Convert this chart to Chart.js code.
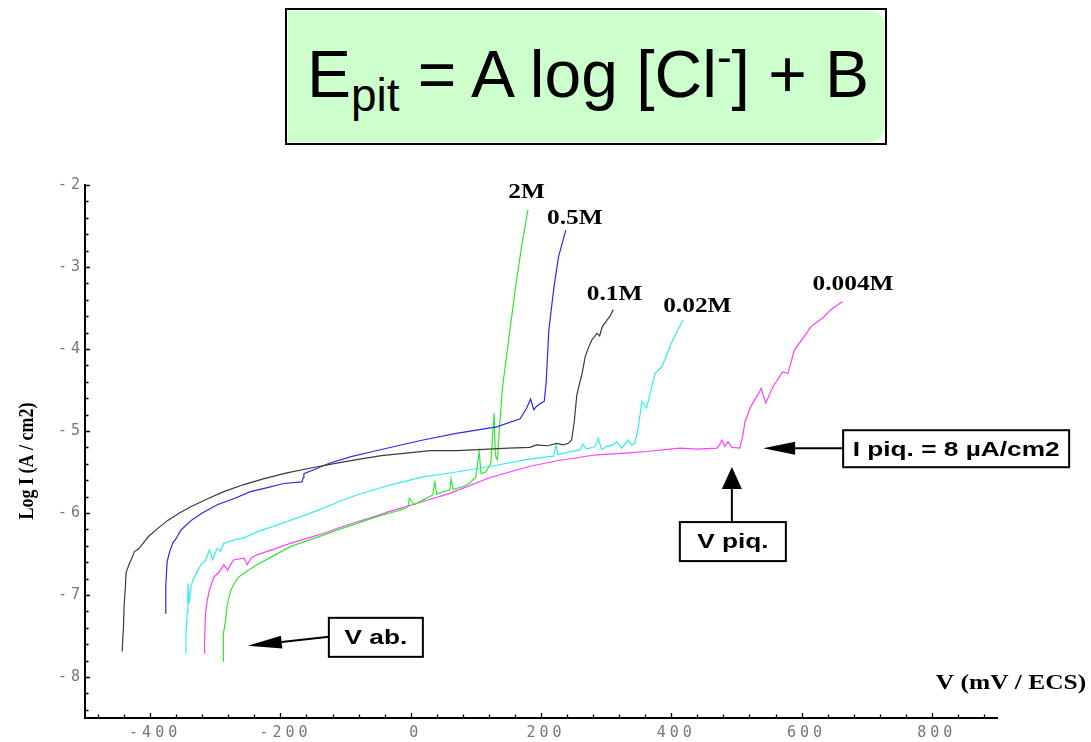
<!DOCTYPE html>
<html>
<head>
<meta charset="utf-8">
<script src="https://cdn.jsdelivr.net/npm/chart.js@4/dist/chart.umd.min.js"></script>
<style>
    html, body { margin: 0; padding: 0; background: #fff; }
    #wrap { position: relative; width: 1091px; height: 742px; overflow: hidden; }
    #chart { position: absolute; left: 0; top: 0; }
    #formula {
        position: absolute; left: 285px; top: 8px; width: 602px; height: 137px;
        border: 2px solid #000; box-sizing: border-box; background: #fff;
    }
    #formula .fill {
        position: absolute; left: 1px; top: 1px; right: 1px; bottom: 1px;
        background: #ccffcc; border-radius: 0 14px 14px 0;
    }
    #formula .txt {
        position: absolute; left: 4px; right: 0; top: 31px; text-align: center;
        font: 66px "Liberation Sans", Arial, sans-serif; line-height: 1; white-space: nowrap; color: #000;
    }
    #formula .sub { font-size: 46px; position: relative; top: 14px; }
    #formula .sup { font-size: 44px; position: relative; top: -25px; }
</style>
</head>
<body>
<div id="wrap">
    <canvas id="chart" width="1091" height="742"></canvas>
    <div id="formula">
        <div class="fill"></div>
        <div class="txt">E<span class="sub">pit</span> = A log [Cl<span class="sup">-</span>] + B</div>
    </div>
</div>
<script>
// tick labels
const xMajorTicks = [-400, -200, 0, 200, 400, 600, 800];
const yMajorTicks = [-8, -7, -6, -5, -4, -3, -2];

// 0.1M (black)
const v01 = [-443, -441, -440, -438, -437, -432, -428, -424, -418, -410, -403, -390, -373, -355, -337, -310, -287, -255, -225, -190, -159, -120, -83, -45, -7, 30, 70, 96, 120, 150, 183, 193, 210, 224, 234, 242, 247, 251, 255, 258, 263, 268, 273, 278, 286, 290, 294, 301, 306, 311];
const logI01 = [-7.69, -7.4, -7.14, -6.9, -6.73, -6.62, -6.55, -6.47, -6.44, -6.36, -6.29, -6.2, -6.09, -6.0, -5.92, -5.82, -5.74, -5.65, -5.58, -5.51, -5.46, -5.4, -5.35, -5.3, -5.27, -5.24, -5.24, -5.23, -5.22, -5.21, -5.2, -5.17, -5.18, -5.15, -5.17, -5.15, -5.11, -4.89, -4.56, -4.46, -4.3, -4.09, -3.98, -3.89, -3.81, -3.84, -3.73, -3.65, -3.6, -3.52];

// 0.5M (blue)
const v05 = [-377, -376, -374, -371, -369, -365, -360, -353, -337, -320, -297, -270, -246, -220, -195, -167, -165, -164, -145, -124, -90, -58, -20, 19, 70, 132, 168, 178, 184, 189, 193, 200, 205, 208, 210, 212, 220, 227, 233, 238];
const logI05 = [-7.22, -6.9, -6.6, -6.5, -6.45, -6.36, -6.31, -6.21, -6.09, -6.0, -5.9, -5.82, -5.74, -5.69, -5.64, -5.62, -5.57, -5.52, -5.46, -5.39, -5.31, -5.25, -5.18, -5.11, -5.03, -4.95, -4.85, -4.72, -4.61, -4.74, -4.7, -4.66, -4.64, -4.4, -4.09, -3.77, -3.24, -2.87, -2.7, -2.55];

// 2M (green)
const v2 = [-288, -288, -287, -284, -282, -279, -276, -270, -264, -250, -236, -210, -185, -160, -134, -110, -83, -58, -32, -10, -4, -2, 5, 19, 34, 37, 40, 50, 60, 62, 65, 80, 90, 100, 105, 108, 115, 123, 128, 130, 133, 136, 141, 151, 161, 171, 180];
const logI2 = [-7.81, -7.65, -7.47, -7.3, -7.14, -7.03, -6.94, -6.85, -6.78, -6.7, -6.63, -6.52, -6.41, -6.34, -6.27, -6.2, -6.13, -6.06, -6.0, -5.95, -5.92, -5.82, -5.9, -5.84, -5.78, -5.62, -5.77, -5.74, -5.72, -5.58, -5.71, -5.68, -5.64, -5.56, -5.25, -5.52, -5.5, -5.4, -4.78, -5.3, -5.35, -4.99, -4.46, -3.85, -3.24, -2.71, -2.3];

// 0.02M (cyan)
const v002 = [-346, -345, -343, -342, -340, -337, -332, -322, -315, -309, -304, -297, -292, -287, -271, -255, -236, -210, -185, -160, -134, -110, -83, -58, -32, 19, 70, 124, 177, 215, 219, 223, 226, 240, 260, 264, 270, 283, 288, 293, 300, 311, 316, 324, 334, 339, 344, 349, 355, 362, 367, 375, 385, 390, 400, 408, 418];
const logI002 = [-7.71, -7.45, -7.22, -6.86, -7.1, -6.88, -6.78, -6.63, -6.58, -6.45, -6.57, -6.43, -6.47, -6.37, -6.33, -6.3, -6.23, -6.16, -6.09, -6.02, -5.94, -5.86, -5.78, -5.72, -5.66, -5.56, -5.5, -5.43, -5.35, -5.31, -5.31, -5.17, -5.29, -5.26, -5.23, -5.16, -5.22, -5.19, -5.09, -5.23, -5.19, -5.17, -5.13, -5.21, -5.11, -5.17, -5.15, -4.97, -4.64, -4.72, -4.56, -4.3, -4.22, -4.13, -3.93, -3.8, -3.65];

// 0.004M (magenta)
const v0004 = [-316, -317, -316, -315, -312, -309, -302, -294, -287, -281, -276, -271, -256, -251, -245, -236, -210, -185, -160, -134, -110, -83, -58, -32, 19, 60, 121, 183, 227, 285, 329, 362, 413, 440, 470, 474, 478, 482, 487, 493, 505, 510, 513, 521, 528, 533, 538, 545, 556, 571, 579, 589, 604, 614, 634, 645, 663];
const logI0004 = [-7.71, -7.62, -7.55, -7.22, -7.05, -6.94, -6.78, -6.72, -6.63, -6.7, -6.62, -6.57, -6.55, -6.63, -6.55, -6.51, -6.44, -6.37, -6.31, -6.25, -6.18, -6.11, -6.05, -5.98, -5.86, -5.76, -5.57, -5.43, -5.36, -5.29, -5.27, -5.25, -5.21, -5.22, -5.21, -5.17, -5.11, -5.19, -5.13, -5.2, -5.21, -5.05, -4.89, -4.72, -4.62, -4.56, -4.48, -4.66, -4.46, -4.28, -4.3, -4.01, -3.85, -3.73, -3.61, -3.52, -3.42];

function pts(xs, ys) {
    return xs.map((x, i) => ({ x: x, y: ys[i] }));
}

function curve(label, xs, ys, color) {
    return {
        label: label,
        data: pts(xs, ys),
        borderColor: color,
        borderWidth: 1.2,
        pointRadius: 0,
        showLine: true,
        tension: 0,
        fill: false
    };
}

// text drawn a bit wider than the font, like the scanned figure
function wideText(ctx, text, x, y, font, sx) {
    ctx.save();
    ctx.font = font;
    ctx.fillStyle = '#000';
    ctx.textAlign = 'center';
    ctx.textBaseline = 'middle';
    ctx.translate(x, y);
    ctx.scale(sx, 1);
    ctx.fillText(text, 0, 0);
    ctx.restore();
}

function arrow(ctx, x0, y0, x1, y1, headLen, headHalf) {
    const ang = Math.atan2(y1 - y0, x1 - x0);
    const bx = x1 - Math.cos(ang) * headLen;
    const by = y1 - Math.sin(ang) * headLen;
    ctx.save();
    ctx.strokeStyle = '#000';
    ctx.fillStyle = '#000';
    ctx.lineWidth = 2;
    ctx.beginPath();
    ctx.moveTo(x0, y0);
    ctx.lineTo(bx, by);
    ctx.stroke();
    ctx.beginPath();
    ctx.moveTo(x1, y1);
    ctx.lineTo(bx - Math.sin(ang) * headHalf, by + Math.cos(ang) * headHalf);
    ctx.lineTo(bx + Math.sin(ang) * headHalf, by - Math.cos(ang) * headHalf);
    ctx.closePath();
    ctx.fill();
    ctx.restore();
}

function box(ctx, x, y, w, h, text) {
    ctx.save();
    ctx.fillStyle = '#fff';
    ctx.fillRect(x, y, w, h);
    ctx.strokeStyle = '#000';
    ctx.lineWidth = 2;
    ctx.strokeRect(x, y, w, h);
    ctx.restore();
    wideText(ctx, text, x + w / 2, y + h / 2 + 1, 'bold 21px "Liberation Sans", Arial, sans-serif', 1.25);
}

const curveLabels = [
    ['2M', 178, -2.09],
    ['0.5M', 252, -2.41],
    ['0.1M', 313, -3.34],
    ['0.02M', 440, -3.48],
    ['0.004M', 679, -3.22]
];

const overlay = {
    id: 'overlay',
    beforeDraw(chart) {
        chart.ctx.letterSpacing = '4px';
    },
    beforeDatasetsDraw(chart) {
        chart.ctx.letterSpacing = '0px';
    },
    afterDraw(chart) {
        const ctx = chart.ctx;
        const xs = chart.scales.x;
        const ys = chart.scales.y;
        const a = chart.chartArea;

        // inward tick marks
        ctx.save();
        ctx.strokeStyle = '#000';
        ctx.lineWidth = 1.3;
        ctx.beginPath();
        xs.ticks.forEach(t => {
            const px = Math.round(xs.getPixelForValue(t.value)) + 0.5;
            const len = xMajorTicks.includes(t.value) ? 5 : 3.5;
            ctx.moveTo(px, a.bottom);
            ctx.lineTo(px, a.bottom - len);
        });
        ys.ticks.forEach(t => {
            const py = Math.round(ys.getPixelForValue(t.value)) + 0.5;
            const len = yMajorTicks.includes(t.value) ? 5 : 3.5;
            ctx.moveTo(a.left, py);
            ctx.lineTo(a.left + len, py);
        });
        ctx.stroke();
        ctx.restore();

        // axis titles
        wideText(ctx, 'V (mV / ECS)', 1011, 684, 'bold 20px "Liberation Serif", serif', 1.27);
        ctx.save();
        ctx.font = 'bold 18px "Liberation Serif", serif';
        ctx.fillStyle = '#000';
        ctx.textAlign = 'center';
        ctx.textBaseline = 'middle';
        ctx.translate(27, 461);
        ctx.scale(1.2, 1);
        ctx.rotate(-Math.PI / 2);
        ctx.fillText('Log I (A / cm2)', 0, 0);
        ctx.restore();

        // curve labels
        curveLabels.forEach(([text, v, l]) => {
            wideText(ctx, text, xs.getPixelForValue(v), ys.getPixelForValue(l), 'bold 20px "Liberation Serif", serif', 1.27);
        });

        // pitting current annotation
        const ipx = xs.getPixelForValue(541), ipy = ys.getPixelForValue(-5.21);
        arrow(ctx, ipx + 80, ipy, ipx, ipy, 32, 6.5);
        box(ctx, ipx + 80, ipy - 18, 226, 37, 'I piq. = 8 \u00b5A/cm2');

        // pitting potential annotation
        const vpx = xs.getPixelForValue(493), vpy = ys.getPixelForValue(-5.44);
        arrow(ctx, vpx, vpy + 55, vpx, vpy, 22, 10);
        box(ctx, vpx - 52, vpy + 55, 106, 39, 'V piq.');

        // abandon potential annotation
        const apx = xs.getPixelForValue(-250), apy = ys.getPixelForValue(-7.62);
        arrow(ctx, apx + 81, apy - 9, apx, apy, 34, 6.5);
        box(ctx, apx + 81, apy - 28, 94, 39, 'V ab.');
    }
};

new Chart(document.getElementById('chart'), {
    type: 'scatter',
    data: {
        datasets: [
            curve('0.1M', v01, logI01, '#3a3a3a'),
            curve('0.5M', v05, logI05, '#2b2bea'),
            curve('0.02M', v002, logI002, '#33eeee'),
            curve('2M', v2, logI2, '#33e633'),
            curve('0.004M', v0004, logI0004, '#ff40ff')
        ]
    },
    options: {
        responsive: false,
        animation: false,
        devicePixelRatio: 1,
        layout: { padding: { top: 185, right: 94, left: 0, bottom: 0 } },
        plugins: {
            legend: { display: false },
            tooltip: { enabled: false }
        },
        scales: {
            x: {
                type: 'linear',
                min: -500,
                max: 900,
                grid: { display: false, drawTicks: false },
                border: { display: true, color: '#000', width: 2 },
                afterFit(scale) { scale.height = 24; },
                afterBuildTicks(scale) {
                    const t = [];
                    for (let v = -480; v <= 880; v += 40) t.push({ value: v });
                    scale.ticks = t;
                },
                ticks: {
                    autoSkip: false,
                    maxRotation: 0,
                    padding: 6,
                    labelOffset: 5,
                    color: '#777',
                    font: { family: '"DejaVu Sans Mono", monospace', size: 15 },
                    callback: v => xMajorTicks.includes(v) ? String(v) : ''
                }
            },
            y: {
                type: 'linear',
                min: -8.5,
                max: -2,
                grid: { display: false, drawTicks: false },
                border: { display: true, color: '#000', width: 2 },
                afterFit(scale) { scale.width = 85; },
                afterBuildTicks(scale) {
                    const t = [];
                    for (let k = -42; k <= -10; k++) t.push({ value: k / 5 });
                    scale.ticks = t;
                },
                ticks: {
                    autoSkip: false,
                    padding: 1,
                    color: '#777',
                    font: { family: '"DejaVu Sans Mono", monospace', size: 15 },
                    callback: v => yMajorTicks.includes(v) ? String(v) : ''
                }
            }
        }
    },
    plugins: [overlay]
});
</script>
</body>
</html>
